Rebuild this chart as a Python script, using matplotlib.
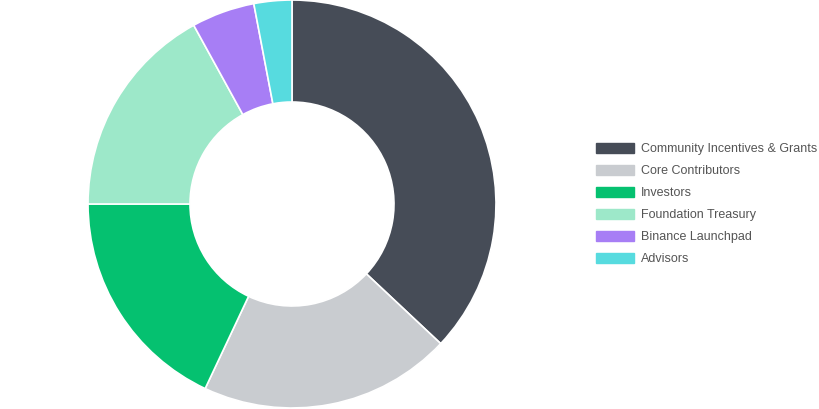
import matplotlib.pyplot as plt
from matplotlib.patches import Rectangle

labels = ["Community Incentives & Grants", "Core Contributors", "Investors",
          "Foundation Treasury", "Binance Launchpad", "Advisors"]
shares = [37, 20, 18, 17, 5, 3]
colors = ["#464c57", "#c9ccd0", "#05c170", "#9de8c9", "#a77ef5", "#57dbdf"]

plt.rcParams["font.family"] = ["Liberation Sans", "DejaVu Sans"]

fig = plt.figure(figsize=(8.2, 4.1), dpi=100)
ax = fig.add_axes([(292 - 205) / 820, 0, 410 / 820, 1])
ax.pie(shares, colors=colors, startangle=90, counterclock=False, radius=1.0,
       wedgeprops=dict(width=0.5, edgecolor="white", linewidth=1.2))
ax.set_xlim(-1.005, 1.005)
ax.set_ylim(-1.005, 1.005)
ax.set_aspect("equal")

# legend drawn in figure pixel coords
for i, (lab, col) in enumerate(zip(labels, colors)):
    y = 410 - (149 + 22 * i)
    fig.add_artist(Rectangle((596 / 820, (y - 5) / 410), 38 / 820, 10 / 410,
                             transform=fig.transFigure, color=col))
    fig.text(641 / 820, y / 410, lab, fontsize=9, color="#555555", va="center")

fig.savefig("out.png", dpi=100)
